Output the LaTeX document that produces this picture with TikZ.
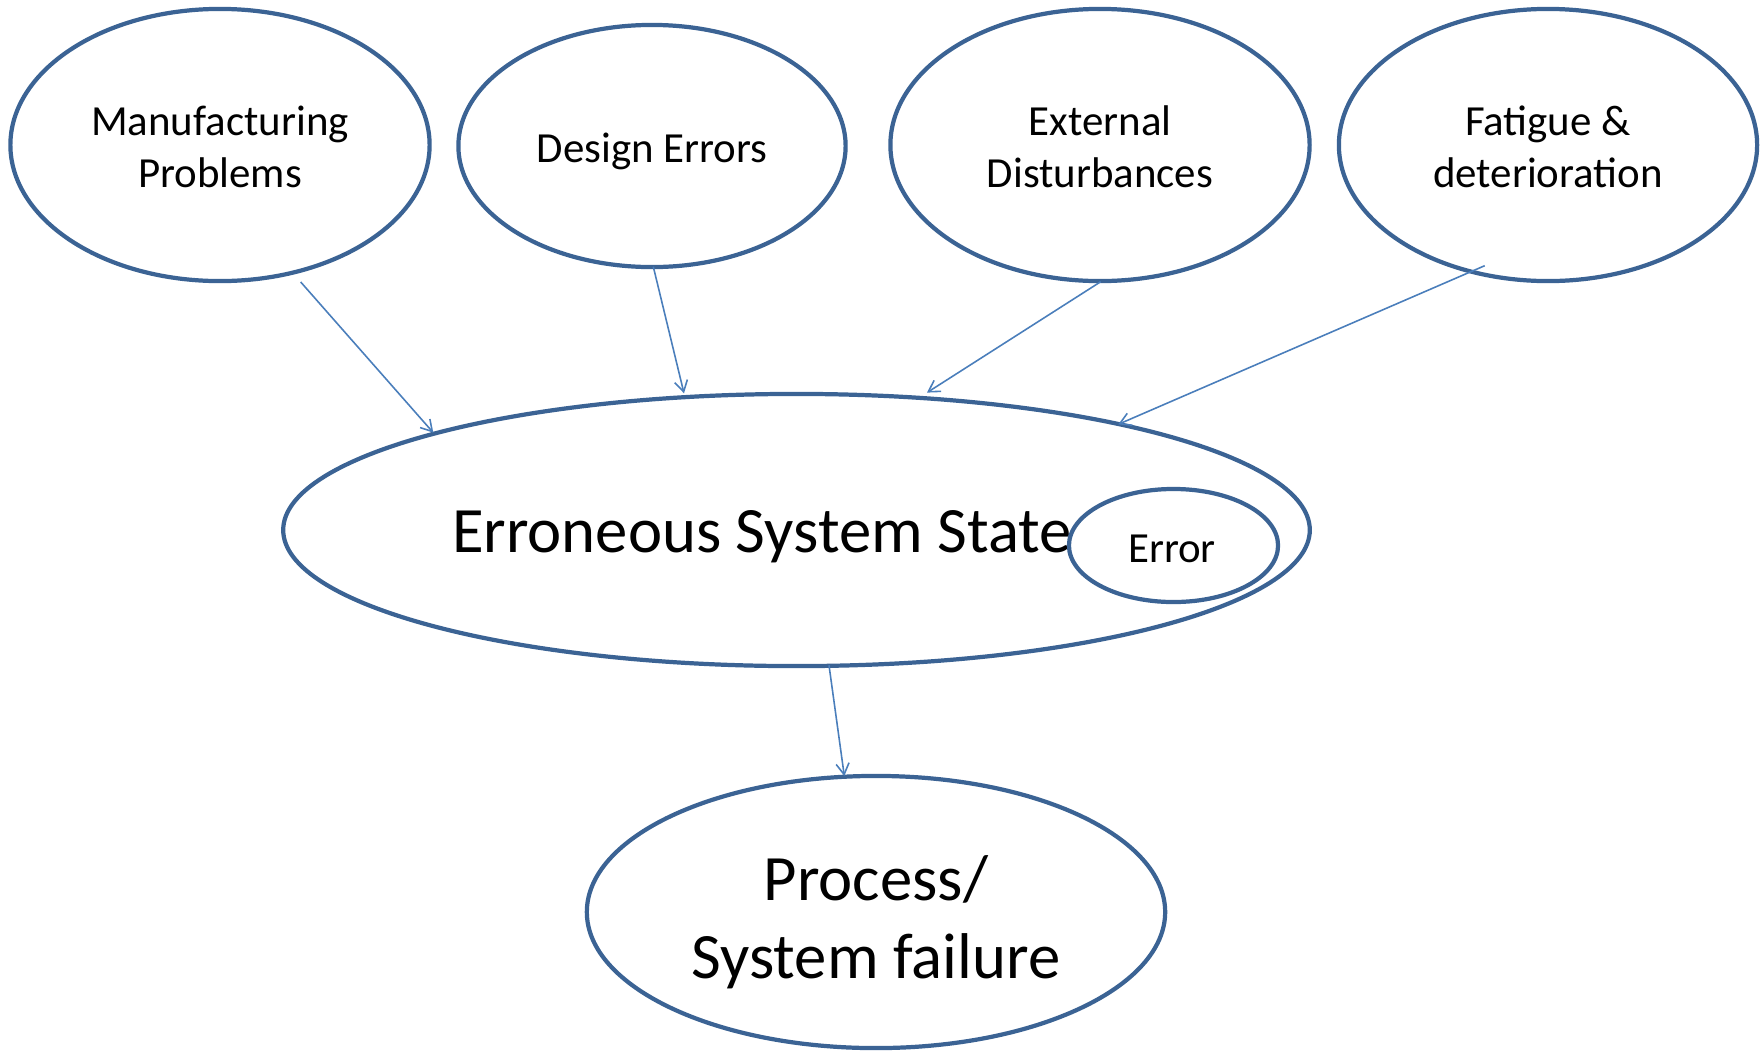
\documentclass[tikz,border=0pt]{standalone}
\usepackage{fontspec}
\setmainfont{Carlito}
\usetikzlibrary{arrows.meta,calc,shapes.geometric}
\definecolor{edgeblue}{HTML}{3B6394}
\definecolor{arrowblue}{HTML}{4A7EBB}
\tikzset{
  oval/.style={ellipse, draw=edgeblue, line width=1.2pt, fill=white, inner sep=0pt, outer sep=0pt, align=center},
  txt/.style={align=center, inner sep=0pt, text=black},
  small/.style={font=\fontsize{12.2}{14.8}\selectfont},
  big/.style={font=\fontsize{18.4}{22.3}\selectfont},
  arr/.style={draw=arrowblue, line width=0.45pt, -{Straight Barb[length=1.1mm,width=1.3mm,line width=0.45pt]}}
}
\begin{document}
\begin{tikzpicture}[x=0.01cm,y=-0.01cm]
\useasboundingbox (0,0) rectangle (1764,1051);
\node[oval, minimum width=4.19cm, minimum height=2.72cm] (m) at (220,145) {};
\node[txt, small] (mt) at (220,147) {Manufacturing\\Problems};
\node[oval, minimum width=3.87cm, minimum height=2.42cm] (d) at (652,146) {};
\node[txt, small] (dt) at (652,151) {Design Errors};
\node[oval, minimum width=4.19cm, minimum height=2.72cm] (ext) at (1100,145) {};
\node[txt, small] (extt) at (1100,147) {External\\Disturbances};
\node[oval, minimum width=4.18cm, minimum height=2.72cm] (fat) at (1548,145) {};
\node[txt, small] (fatt) at (1548,147) {Fatigue \&\\deterioration};
\node[oval, minimum width=10.26cm, minimum height=2.72cm] (ess) at (796.5,530) {};
\node[txt, big] (esst) at (762,537) {Erroneous System State};
\node[oval, minimum width=2.09cm, minimum height=1.13cm] (err) at (1173.5,545.5) {};
\node[txt, small] (errt) at (1172,549) {Error};
\node[oval, minimum width=5.78cm, minimum height=2.72cm] (proc) at (876,912) {};
\node[txt, big] (proct) at (876,922) {Process/\\System failure};
\draw[arr] ($(m)+(80.7,137)$) -- ($(ess)+(-363.2,-97.3)$);
\draw[arr] ($(d)+(1.3,120.7)$) -- ($(ess)+(-112.5,-136.7)$);
\draw[arr] ($(ext)+(0.7,136.7)$) -- ($(ess)+(130.5,-137.4)$);
\draw[arr] ($(fat)+(-63.3,120.7)$) -- ($(ess)+(321.8,-105.7)$);
\draw[arr] ($(ess)+(32.5,135.3)$) -- ($(proc)+(-31.7,-136)$);
\end{tikzpicture}
\end{document}
